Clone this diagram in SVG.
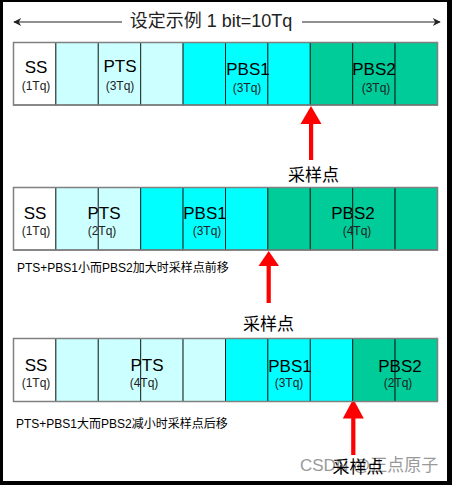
<svg xmlns="http://www.w3.org/2000/svg" width="452" height="485" viewBox="0 0 452 485">
<style>
.lat{font-family:"Liberation Sans",Arial,sans-serif;fill:#000;text-anchor:middle}
.big{font-size:17px}
.sm{font-size:12px;fill:#222}
.cjk{font-family:"Liberation Sans","Noto Sans CJK SC",sans-serif}
.w{fill:#fff}.lc{fill:#ccffff}.c{fill:#00ffff}.g{fill:#00cc99}
.cell{stroke:#000;stroke-opacity:0.75;stroke-width:1}
.frame{fill:none;stroke:#808080;stroke-width:1.5}
.red{fill:#ff0000}
</style>
<defs>
<marker id="ah" viewBox="0 0 10 10" refX="9" refY="5" markerWidth="10" markerHeight="8" markerUnits="userSpaceOnUse" orient="auto-start-reverse">
<path d="M0,0 L10,5 L0,10 L3,5 Z" fill="#222"/>
</marker>
</defs>
<rect x="0" y="0" width="452" height="485" fill="#000"/>
<rect x="3" y="2" width="444" height="479" fill="#fff"/>

<g id="title">
<text class="cjk" x="211" y="27" font-size="18" text-anchor="middle" fill="#222">设定示例 1 bit=10Tq</text>
</g>
<g id="connectors">
<line x1="122" y1="22" x2="14" y2="22" stroke="#222" stroke-width="1" marker-end="url(#ah)"/>
<line x1="302" y1="22" x2="440" y2="22" stroke="#222" stroke-width="1" marker-end="url(#ah)"/>
<g id="arrow1" class="red">
<polygon points="311,106 300.5,124 321.5,124"/>
<rect x="309" y="123" width="4.2" height="37"/>
</g>
<g id="arrow2" class="red">
<polygon points="268.7,251 258.5,266 279,266"/>
<rect x="266.6" y="265" width="4.2" height="38"/>
</g>
<g id="arrow3" class="red">
<polygon points="353.3,399 342.8,418.5 363.8,418.5"/>
<rect x="351.2" y="418" width="4.2" height="37"/>
</g>
</g>

<g id="row1">
<rect class="cell w" x="13.5" y="42.5" width="42.4" height="62.5"/>
<rect class="cell lc" x="55.9" y="42.5" width="42.4" height="62.5"/>
<rect class="cell lc" x="98.3" y="42.5" width="42.4" height="62.5"/>
<rect class="cell lc" x="140.7" y="42.5" width="42.4" height="62.5"/>
<rect class="cell c" x="183.1" y="42.5" width="42.4" height="62.5"/>
<rect class="cell c" x="225.5" y="42.5" width="42.4" height="62.5"/>
<rect class="cell c" x="267.9" y="42.5" width="42.4" height="62.5"/>
<rect class="cell g" x="310.3" y="42.5" width="42.4" height="62.5"/>
<rect class="cell g" x="352.7" y="42.5" width="42.4" height="62.5"/>
<rect class="cell g" x="395.1" y="42.5" width="42.4" height="62.5"/>
<rect class="frame" x="13.5" y="42.5" width="424" height="62.5"/>
<text class="lat big" x="36" y="73">SS</text>
<text class="lat sm" x="36" y="90">(1Tq)</text>
<text class="lat big" x="120" y="72">PTS</text>
<text class="lat sm" x="120" y="90">(3Tq)</text>
<text class="lat big" x="248" y="75">PBS1</text>
<text class="lat sm" x="247" y="91.5">(3Tq)</text>
<text class="lat big" x="374" y="75">PBS2</text>
<text class="lat sm" x="376" y="92">(3Tq)</text>
</g>
<g id="label1">
<text class="cjk" x="313.5" y="181" font-size="17" text-anchor="middle" fill="#000">采样点</text>
</g>

<g id="row2">
<rect class="cell w" x="13.5" y="187.5" width="42.4" height="62.5"/>
<rect class="cell lc" x="55.9" y="187.5" width="42.4" height="62.5"/>
<rect class="cell lc" x="98.3" y="187.5" width="42.4" height="62.5"/>
<rect class="cell c" x="140.7" y="187.5" width="42.4" height="62.5"/>
<rect class="cell c" x="183.1" y="187.5" width="42.4" height="62.5"/>
<rect class="cell c" x="225.5" y="187.5" width="42.4" height="62.5"/>
<rect class="cell g" x="267.9" y="187.5" width="42.4" height="62.5"/>
<rect class="cell g" x="310.3" y="187.5" width="42.4" height="62.5"/>
<rect class="cell g" x="352.7" y="187.5" width="42.4" height="62.5"/>
<rect class="cell g" x="395.1" y="187.5" width="42.4" height="62.5"/>
<rect class="frame" x="13.5" y="187.5" width="424" height="62.5"/>
<text class="lat big" x="35" y="219">SS</text>
<text class="lat sm" x="36" y="234.5">(1Tq)</text>
<text class="lat big" x="104" y="219">PTS</text>
<text class="lat sm" x="102" y="234.5">(2Tq)</text>
<text class="lat big" x="205" y="219">PBS1</text>
<text class="lat sm" x="207" y="234.5">(3Tq)</text>
<text class="lat big" x="353" y="219">PBS2</text>
<text class="lat sm" x="357" y="234.5">(4Tq)</text>
</g>
<g id="note1">
<text class="cjk" x="17" y="272" font-size="12" fill="#000">PTS+PBS1小而PBS2加大时采样点前移</text>
</g>
<g id="label2">
<text class="cjk" x="268.5" y="330" font-size="17" text-anchor="middle" fill="#000">采样点</text>
</g>

<g id="row3">
<rect class="cell w" x="13.5" y="338.5" width="42.4" height="63"/>
<rect class="cell lc" x="55.9" y="338.5" width="42.4" height="63"/>
<rect class="cell lc" x="98.3" y="338.5" width="42.4" height="63"/>
<rect class="cell lc" x="140.7" y="338.5" width="42.4" height="63"/>
<rect class="cell lc" x="183.1" y="338.5" width="42.4" height="63"/>
<rect class="cell c" x="225.5" y="338.5" width="42.4" height="63"/>
<rect class="cell c" x="267.9" y="338.5" width="42.4" height="63"/>
<rect class="cell c" x="310.3" y="338.5" width="42.4" height="63"/>
<rect class="cell g" x="352.7" y="338.5" width="42.4" height="63"/>
<rect class="cell g" x="395.1" y="338.5" width="42.4" height="63"/>
<rect class="frame" x="13.5" y="338.5" width="424" height="63"/>
<text class="lat big" x="36" y="370.5">SS</text>
<text class="lat sm" x="36" y="386.5">(1Tq)</text>
<text class="lat big" x="147" y="371">PTS</text>
<text class="lat sm" x="144" y="387">(4Tq)</text>
<text class="lat big" x="290" y="371.5">PBS1</text>
<text class="lat sm" x="289" y="387">(3Tq)</text>
<text class="lat big" x="400" y="371.5">PBS2</text>
<text class="lat sm" x="398" y="387">(2Tq)</text>
</g>
<g id="note2">
<text class="cjk" x="16" y="428" font-size="12" fill="#000">PTS+PBS1大而PBS2减小时采样点后移</text>
</g>
<g id="watermark">
<text class="cjk" x="300" y="471" font-size="17" fill="#999">CSDN @正点原子</text>
</g>
<g id="label3">
<text class="cjk" x="358" y="473" font-size="17" text-anchor="middle" fill="#000">采样点</text>
</g>
</svg>
